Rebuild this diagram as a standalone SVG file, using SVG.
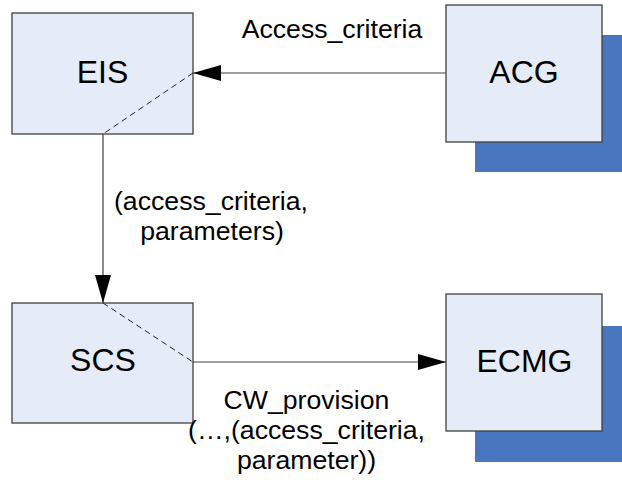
<svg xmlns="http://www.w3.org/2000/svg" width="622" height="480" viewBox="0 0 622 480">
<defs>
<style>
.box{fill:#e6ecf7;stroke:#404040;stroke-width:1.3}
.shadow{fill:#4877c0}
.lbl{font-family:"Liberation Sans",Arial,sans-serif;font-size:32px;fill:#000;text-anchor:middle}
.t{font-family:"Liberation Sans",Arial,sans-serif;font-size:26.67px;fill:#000;text-anchor:middle}
.ln{stroke:#404040;stroke-width:1.2;fill:none}
.dash{stroke:#202020;stroke-width:1;stroke-dasharray:6 4;fill:none}
</style>
<marker id="arr" viewBox="0 0 28 16" refX="28" refY="8" markerWidth="28" markerHeight="16" markerUnits="userSpaceOnUse" orient="auto">
<path d="M0,0 L28,8 L0,16 Z" fill="#000"/>
</marker>
</defs>
<g id="ACG">
<rect class="shadow" x="475" y="35" width="147" height="137"/>
<rect class="box" x="446" y="5" width="156" height="137"/>
<text class="lbl" x="524" y="83">ACG</text>
</g>
<g id="ECMG">
<rect class="shadow" x="475" y="326" width="147" height="136"/>
<rect class="box" x="446" y="294" width="156" height="137"/>
<text class="lbl" x="524.5" y="372">ECMG</text>
</g>
<g id="EIS">
<rect class="box" x="12" y="13" width="181" height="121"/>
<text class="lbl" x="102.5" y="83">EIS</text>
</g>
<g id="SCS">
<rect class="box" x="12" y="303" width="181" height="120"/>
<text class="lbl" x="103" y="371">SCS</text>
</g>
<g id="connectors">
<path class="dash" d="M193,73 L103,134"/>
<path class="dash" d="M103,303 L193,362"/>
<path class="ln" d="M446,73 L193,73" marker-end="url(#arr)"/>
<path class="ln" d="M103,134 L103,303" marker-end="url(#arr)"/>
<path class="ln" d="M193,362 L446,362" marker-end="url(#arr)"/>
<text class="t" x="332" y="38">Access_criteria</text>
<text class="t" x="211" y="210">(access_criteria,</text>
<text class="t" x="212" y="240">parameters)</text>
<text class="t" x="306.5" y="409">CW_provision</text>
<text class="t" x="306.5" y="439">(…,(access_criteria,</text>
<text class="t" x="306.5" y="469">parameter))</text>
</g>
</svg>
